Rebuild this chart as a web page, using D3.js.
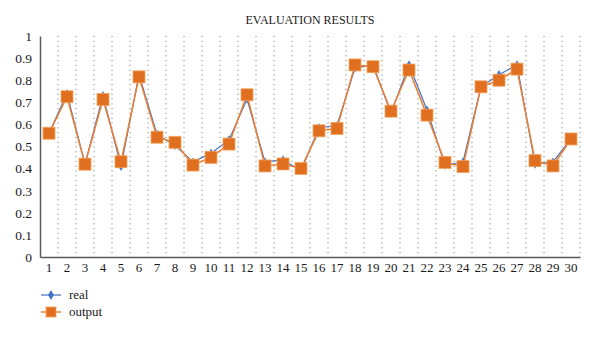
<!DOCTYPE html>
<html><head><meta charset="utf-8">
<script src="https://cdn.jsdelivr.net/npm/d3@7"></script>
<style>body{margin:0;background:#fff;} svg{display:block;}</style>
</head><body>
<svg id="c" width="600" height="339"></svg>
<script>
const categories = d3.range(1, 31).map(String);
const realValues = [0.56,0.74,0.42,0.73,0.41,0.825,0.555,0.505,0.43,0.47,0.53,0.715,0.43,0.44,0.39,0.585,0.595,0.855,0.87,0.65,0.87,0.665,0.415,0.43,0.77,0.825,0.87,0.42,0.43,0.535];
const outputValues = [0.56,0.725,0.42,0.713,0.431,0.815,0.542,0.519,0.416,0.451,0.511,0.734,0.412,0.421,0.401,0.571,0.582,0.869,0.861,0.66,0.846,0.642,0.428,0.409,0.77,0.80,0.85,0.436,0.412,0.534];
const yTicks = [0,0.1,0.2,0.3,0.4,0.5,0.6,0.7,0.8,0.9,1];
const title = "EVALUATION RESULTS";
const seriesNames = ["real","output"];

const svg = d3.select("#c");
const font = "'Liberation Serif', 'DejaVu Serif', serif";
const x = d3.scaleBand().domain(categories).range([40, 580]);
const y = d3.scaleLinear().domain([0, 1]).range([257, 36]);

// dotted vertical gridlines at band boundaries
svg.append("g").selectAll("line").data(categories).join("line")
  .attr("x1", d => x(d) + x.bandwidth()).attr("x2", d => x(d) + x.bandwidth())
  .attr("y1", y(1)).attr("y2", y(0))
  .attr("stroke", "#808080").attr("stroke-width", 1).attr("stroke-dasharray", "1.2,3.6");

// axes
const yAxis = svg.append("g").attr("transform", "translate(40,0)")
  .call(d3.axisLeft(y).tickValues(yTicks).tickSize(0).tickPadding(8).tickFormat(d => d === 0 ? "0" : d === 1 ? "1" : d3.format(".1f")(d)));
yAxis.select(".domain").attr("stroke", "#595959").attr("stroke-width", 1.5);
yAxis.selectAll("text").attr("font-family", font).attr("font-size", 13.5).attr("fill", "#1a1a1a");

const xAxis = svg.append("g").attr("transform", "translate(0,257)")
  .call(d3.axisBottom(x).tickSize(0).tickPadding(6));
xAxis.select(".domain").attr("stroke", "#595959").attr("stroke-width", 1.5);
xAxis.selectAll("text").attr("font-family", font).attr("font-size", 13).attr("fill", "#1a1a1a");

const cx = d => x(d) + x.bandwidth() / 2;
const blue = "#4472C4", orange = "#E0701F";

const realData = categories.map((c, i) => [c, realValues[i]]);
const outData = categories.map((c, i) => [c, outputValues[i]]);
const line = d3.line().x(d => cx(d[0])).y(d => y(d[1]));

svg.append("path").datum(realData).attr("d", line).attr("fill", "none").attr("stroke", blue).attr("stroke-width", 1.2);
svg.append("path").datum(outData).attr("d", line).attr("fill", "none").attr("stroke", "#ED7D31").attr("stroke-width", 1.5);

svg.append("g").selectAll("path").data(realData).join("path")
  .attr("d", d3.symbol(d3.symbolDiamond, 24)())
  .attr("transform", d => `translate(${cx(d[0])},${y(d[1])})`)
  .attr("fill", blue);

svg.append("g").selectAll("rect").data(outData).join("rect")
  .attr("x", d => cx(d[0]) - 6).attr("y", d => y(d[1]) - 6)
  .attr("width", 12).attr("height", 12)
  .attr("fill", orange).attr("stroke", "#F4A460").attr("stroke-width", 0.8);

// title
svg.append("text").attr("x", 310).attr("y", 24).attr("text-anchor", "middle")
  .attr("font-family", font).attr("font-size", 12).attr("fill", "#1a1a1a").text(title);

// legend
const lg = svg.append("g");
const legendY = [295, 312];
lg.append("line").attr("x1", 41).attr("x2", 61).attr("y1", legendY[0]).attr("y2", legendY[0]).attr("stroke", blue).attr("stroke-width", 1.2);
lg.append("path").attr("d", d3.symbol(d3.symbolDiamond, 30)()).attr("transform", `translate(51,${legendY[0]})`).attr("fill", blue);
lg.append("line").attr("x1", 41).attr("x2", 61).attr("y1", legendY[1]).attr("y2", legendY[1]).attr("stroke", "#ED7D31").attr("stroke-width", 1.5);
lg.append("rect").attr("x", 46).attr("y", legendY[1] - 5).attr("width", 10).attr("height", 10).attr("fill", orange).attr("stroke", "#F4A460").attr("stroke-width", 0.8);
lg.selectAll("text").data(seriesNames).join("text")
  .attr("x", 69).attr("y", (d, i) => legendY[i] + 4)
  .attr("font-family", font).attr("font-size", 13).attr("fill", "#1a1a1a").text(d => d);
</script>
</body></html>
